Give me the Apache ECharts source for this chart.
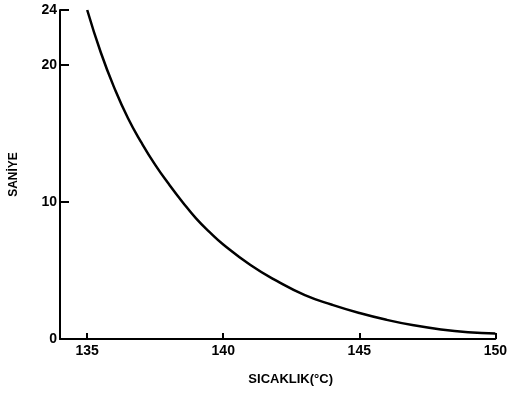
<!DOCTYPE html>
<html>
<head>
<meta charset="utf-8">
<script src="https://cdn.jsdelivr.net/npm/echarts@6/dist/echarts.min.js"></script>
<style>
  html, body { margin: 0; padding: 0; background: #fff; }
  #chart { width: 510px; height: 394px; }
</style>
</head>
<body>
<div id="chart"></div>
<script>
// sıcaklık (°C) ve süre (saniye)
const temps = [135, 135.5, 136, 136.5, 137, 137.5, 138, 138.5, 139, 139.5, 140, 141, 142, 143, 144, 145, 146, 147, 148, 149, 150];
const seconds = [24, 20.9, 18.3, 16.1, 14.3, 12.7, 11.3, 10.0, 8.8, 7.8, 6.9, 5.4, 4.2, 3.2, 2.5, 1.9, 1.4, 1.0, 0.7, 0.5, 0.4];
const xTicks = [135, 140, 145, 150];
const yTicks = [0, 10, 20, 24];

const chart = echarts.init(document.getElementById("chart"));
const FONT = "Liberation Sans";

chart.setOption({
  animation: false,
  grid: { left: 60, right: 10, top: 10, bottom: 55 },
  xAxis: {
    type: "value",
    min: 134,
    max: 150,
    name: "SICAKLIK(°C)",
    nameLocation: "middle",
    nameGap: 34,
    nameTextStyle: {
      color: "#000",
      fontFamily: FONT,
      fontWeight: "bold",
      fontSize: 13,
      padding: [0, 0, 0, 26], // biraz sağa kaydır
    },
    axisLine: { lineStyle: { color: "#000", width: 2 } },
    axisTick: {
      inside: true,
      length: 6,
      customValues: xTicks,
      lineStyle: { color: "#000", width: 2 },
    },
    axisLabel: {
      customValues: xTicks,
      color: "#000",
      fontFamily: FONT,
      fontWeight: "bold",
      fontSize: 14,
      margin: 5,
    },
    splitLine: { show: false },
  },
  yAxis: {
    type: "value",
    min: 0,
    max: 24,
    name: "SANİYE",
    nameLocation: "middle",
    nameGap: 40,
    nameTextStyle: {
      color: "#000",
      fontFamily: FONT,
      fontWeight: "bold",
      fontSize: 12,
    },
    axisLine: { show: true, lineStyle: { color: "#000", width: 2 } },
    axisTick: {
      show: true,
      inside: true,
      length: 9,
      customValues: [10, 20, 24],
      lineStyle: { color: "#000", width: 2 },
    },
    axisLabel: {
      customValues: yTicks,
      color: "#000",
      fontFamily: FONT,
      fontWeight: "bold",
      fontSize: 14,
      margin: 3,
    },
    splitLine: { show: false },
  },
  series: [
    {
      type: "line",
      data: temps.map((t, i) => [t, seconds[i]]),
      smooth: true,
      showSymbol: false,
      lineStyle: { color: "#000", width: 2.5 },
    },
  ],
});
</script>
</body>
</html>
